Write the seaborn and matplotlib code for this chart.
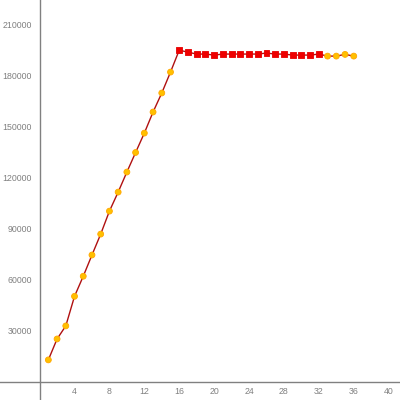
import pandas as pd
import matplotlib
matplotlib.use("Agg")
import matplotlib.pyplot as plt
import seaborn as sns

x_vals = list(range(1, 37))
y_vals = [13000, 25300, 33000, 50400, 62200, 74700, 87000, 100500, 111700,
          123500, 135000, 146400, 158800, 170000, 182300, 195200, 194000,
          192900, 192900, 192300, 192900, 192900, 192900, 192900, 192900,
          193500, 192900, 192900, 192300, 192300, 192300, 192900, 191700,
          191700, 192700, 191700]
groups = ["a"] * 15 + ["b"] * 17 + ["a"] * 4

x_ticks = [-4, 4, 8, 12, 16, 20, 24, 28, 32, 36, 40]
x_tick_labels = [""] + [str(t) for t in x_ticks[1:]]
y_ticks = [30000, 60000, 90000, 120000, 150000, 180000, 210000]

df = pd.DataFrame({"x": x_vals, "y": y_vals, "group": groups})

sns.set_theme(style="white")
plt.rcParams['font.family'] = ['Liberation Sans', 'DejaVu Sans']

fig = plt.figure(figsize=(4, 4), dpi=100)
ax = fig.add_axes([0, 0, 1, 1])

sns.lineplot(data=df, x="x", y="y", color="#b01010", linewidth=1,
             sort=False, ax=ax, zorder=2)
sns.scatterplot(data=df, x="x", y="y", hue="group", style="group",
                palette={"a": "#ffc000", "b": "#ee0000"},
                markers={"a": "o", "b": "s"}, s=18, linewidth=0.6,
                edgecolor=None, legend=False, ax=ax, zorder=3)
# darker rim on the yellow points
for coll in ax.collections:
    fc = coll.get_facecolors()
    ec = []
    for c in fc:
        ec.append((1.0, 0.65, 0.0, 1.0) if c[1] > 0.5 else (0.9, 0.0, 0.0, 1.0))
    coll.set_edgecolors(ec)

ax.set_xlim(-4.54, 41.3)
ax.set_ylim(-10600, 224700)

grey = "#808080"
for side in ["top", "right"]:
    ax.spines[side].set_visible(False)
ax.spines["left"].set_position(("data", 0))
ax.spines["bottom"].set_position(("data", 0))
for side in ["left", "bottom"]:
    ax.spines[side].set_color(grey)
    ax.spines[side].set_linewidth(1)

ax.set_xticks(x_ticks)
ax.set_xticklabels(x_tick_labels)
ax.set_yticks(y_ticks)
ax.set_yticklabels([str(t) for t in y_ticks])
ax.tick_params(axis="both", direction="inout", length=7, width=1,
               color=grey, labelcolor=grey, labelsize=6.3)
ax.tick_params(axis="x", pad=0)
ax.tick_params(axis="y", pad=2)
ax.set_xlabel("")
ax.set_ylabel("")
ax.grid(False)

fig.savefig("out.png", dpi=100)
